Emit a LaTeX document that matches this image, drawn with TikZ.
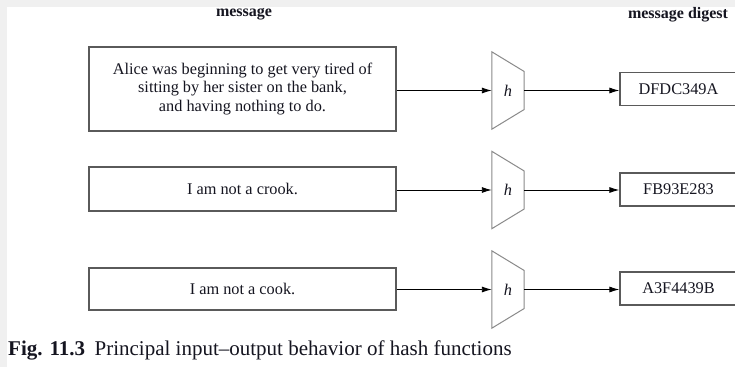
\documentclass[tikz,border=0pt]{standalone}
\usepackage{fontspec}
\setmainfont{Liberation Serif}
\usetikzlibrary{arrows.meta}
\definecolor{pagegray}{HTML}{F0F0F0}
\definecolor{boxline}{HTML}{5A5A5A}
\definecolor{hashline}{HTML}{8A8A8A}
\definecolor{ink}{HTML}{151520}
\begin{document}
\begin{tikzpicture}[x=1pt,y=-1pt,
  every node/.style={text=ink},
  txt/.style={font=\fontsize{16.3}{18.6}\selectfont},
  msgbox/.style={txt, draw=boxline, line width=1.3pt, inner sep=0pt,
    minimum width=307pt, align=center},
  digestbox/.style={txt, draw=boxline, line width=1.3pt, inner sep=0pt,
    minimum width=117pt, minimum height=33pt},
  hashbox/.style={inner sep=0pt, minimum width=32pt, minimum height=77pt,
    font=\fontsize{16.3}{18}\selectfont\itshape},
  trap/.style={draw=hashline, line width=1pt, line join=miter},
  arr/.style={-{Latex[length=10pt,width=6pt]}, line width=0.9pt, draw=black},
  heading/.style={font=\fontsize{16}{18}\selectfont\bfseries}
]
\useasboundingbox[fill=white] (0,0) rectangle (735,367);
% light page margin strips
\fill[pagegray] (0,0) rectangle (735,7);
\fill[pagegray] (0,0) rectangle (7,367);

% column headings
\node[heading] (hmsg) at (244,14) {message};
\node[heading] (hdig) at (678,15) {message digest};

% messages
\node[msgbox, minimum height=84pt] (m1) at (242.5,89)
  {Alice was beginning to get very tired of\\sitting by her sister on the bank,\\and having nothing to do.};
\node[msgbox, minimum height=44pt] (m2) at (242.5,189) {I am not a crook.};
\node[msgbox, minimum height=42pt] (m3) at (242.5,289) {I am not a cook.};

% hash function blocks
\foreach \i/\y in {1/90.5, 2/190, 3/289.5}{
  \node[hashbox] (h\i) at (508,\y) {h};
  \draw[trap] (h\i.north west) -- ([yshift=19pt]h\i.east) --
    ([yshift=-19pt]h\i.east) -- (h\i.south west) -- cycle;
}

% digests
\node[digestbox] (d1) at (678.5,89) {DFDC349A};
\node[digestbox] (d2) at (678.5,189.5) {FB93E283};
\node[digestbox] (d3) at (678.5,288.5) {A3F4439B};

% connectors
\foreach \i in {1,2,3}{
  \draw[arr] (h\i.west -| m\i.east) -- (h\i.west);
  \draw[arr] (h\i.east) -- (h\i.east -| d\i.west);
}

% caption
\node[anchor=base west, inner sep=0pt, font=\fontsize{21}{24}\selectfont] (cap) at (8,355)
  {\textbf{Fig. 11.3}\hspace{0.45em}Principal input–output behavior of hash functions};
\end{tikzpicture}
\end{document}
